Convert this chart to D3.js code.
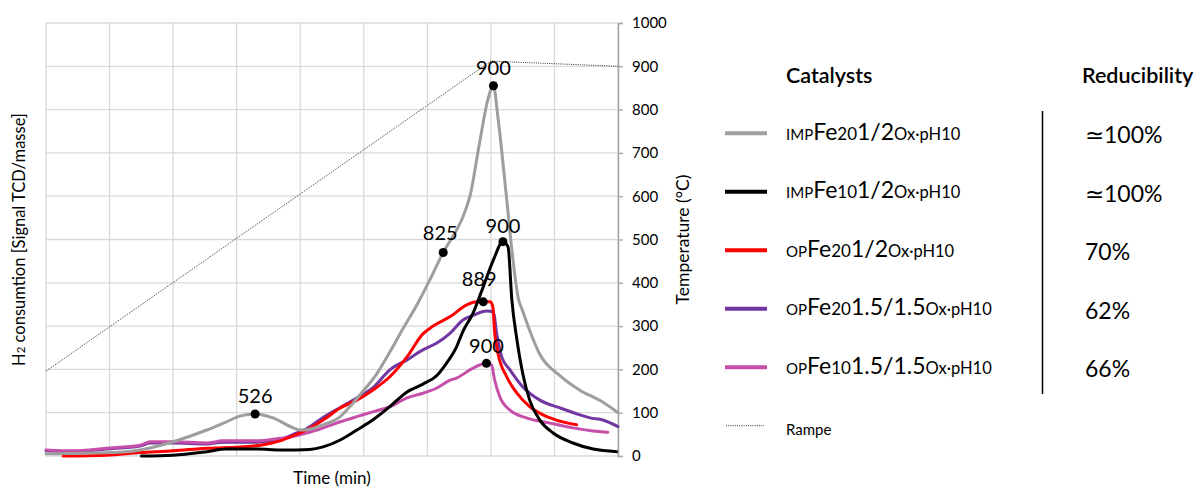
<!DOCTYPE html>
<html>
<head>
<meta charset="utf-8">
<script src="https://cdn.jsdelivr.net/npm/d3@7"></script>
<style>
  html, body { margin: 0; padding: 0; background: #fff; }
  svg { display: block; font-family: Lato, "Open Sans", sans-serif; }
</style>
</head>
<body>
<svg id="chart" width="1200" height="487"></svg>
<script>
// ---------- data ----------
const timeTicks = [0, 10, 20, 30, 40, 50, 60, 70, 80, 90];
const tempTicks = [0, 100, 200, 300, 400, 500, 600, 700, 800, 900, 1000];

const prefixes = ["IMP", "IMP", "OP", "OP", "OP"];
const loadings = ["20", "10", "20", "20", "10"];
const ratios = ["1/2", "1/2", "1/2", "1.5/1.5", "1.5/1.5"];
const suffix = "Ox·pH10";
const reducibility = ["≃100%", "≃100%", "70%", "62%", "66%"];
const colors = ["#9e9e9e", "#000000", "#ff0000", "#7136a0", "#c64fab"];

const impFe20 = [[0,5],[10.1,8],[12.1,9],[14.8,14],[20,33],[25.3,60],[28.4,79],[30.5,92],[32.9,97],[35.7,88],[38.9,65],[40,60],[41.5,62],[43.6,72],[46.3,91],[48.3,122],[49.9,150],[52.1,191],[54.1,240],[56.2,295],[58.4,350],[60.5,410],[62.5,470],[64.6,522],[65.6,552],[66.7,600],[68.3,730],[69.5,822],[70.4,855],[71.1,783],[72.5,591],[73.3,476],[74.3,365],[75.0,335],[76.1,290],[77.7,235],[80.9,185],[84.0,152],[87.2,128],[90,100]];
const impFe10 = [[15,0],[20,2],[25.3,10],[28.4,16],[33.2,16],[36.8,14],[39.4,14],[41.5,15],[43.6,21],[46.3,37],[48.9,60],[51.4,83],[54.1,114],[56.8,148],[59.3,166],[61.5,186],[63.0,214],[64.6,252],[65.6,288],[67.2,330],[68.8,391],[70.4,453],[71.9,495],[72.7,483],[73.3,360],[74.1,268],[75.0,191],[76.1,129],[77.7,83],[79.8,53],[82.9,30],[86.1,16],[89.8,10]];
const opFe20_12 = [[2.7,0],[9.5,2],[14.8,8],[20,12],[25.3,18],[30.5,21],[33.7,25],[36.8,35],[39.4,50],[41.0,60],[43.6,83],[46.3,111],[48.9,129],[51.4,152],[54.1,183],[56.8,229],[59.3,282],[60.9,300],[63.6,322],[66.2,349],[67.8,356],[68.8,356],[69.9,356],[70.3,345],[70.6,284],[71.1,238],[72.5,183],[74.1,145],[76.1,114],[78.2,95],[80.3,83],[83.5,72]];
const opFe20_15 = [[0,12],[4.2,10],[9.5,16],[14.8,23],[16.4,30],[20,30],[25.3,28],[27.8,32],[33.2,32],[36.8,38],[38.9,50],[41.0,63],[43.6,89],[46.3,112],[48.9,134],[51.4,157],[54.1,199],[56.8,222],[59.3,245],[61.5,261],[63.6,284],[65.6,314],[67.2,325],[69.3,335],[70.4,333],[70.9,284],[71.7,229],[73.0,199],[75.0,160],[77.7,129],[80.9,111],[84.0,95],[85.6,88],[87.6,83],[90,68]];
const opFe10_15 = [[0,14],[4.2,12],[9.5,18],[14.8,25],[16.4,33],[20,33],[25.3,30],[27.8,35],[33.2,35],[36.8,41],[38.4,44],[41.0,53],[43.6,65],[46.3,79],[48.9,91],[51.4,102],[54.1,114],[56.8,134],[59.3,145],[61.5,157],[63.6,175],[64.6,180],[67.2,203],[69.3,214],[70.1,210],[70.6,175],[71.4,137],[73.0,106],[75.6,88],[79.3,76],[82.9,65],[86.1,58],[88.4,55]];
const rampe = [[0,196],[70,912],[90,900]];

const annTime = [32.9, 62.5, 70.4, 71.9, 68.8, 69.3];
const annValue = [97, 470, 855, 495, 356, 214];
const annText = ["526", "825", "900", "900", "889", "900"];

const seriesData = [impFe20, impFe10, opFe20_12, opFe20_15, opFe10_15];

// ---------- chart ----------
const svg = d3.select("#chart");
const x = d3.scaleLinear().domain([0, 90]).range([46, 618]);
const y = d3.scaleLinear().domain([0, 1000]).range([456, 23]);

const grid = svg.append("g");
grid.selectAll("line.v").data(timeTicks).join("line")
  .attr("x1", d => x(d)).attr("x2", d => x(d))
  .attr("y1", y(0)).attr("y2", y(1000))
  .attr("stroke", "#d9d9d9").attr("stroke-width", 1.3);
grid.selectAll("line.h").data(tempTicks).join("line")
  .attr("x1", x(0)).attr("x2", x(90))
  .attr("y1", d => y(d)).attr("y2", d => y(d))
  .attr("stroke", "#d9d9d9").attr("stroke-width", 1.3);

// right axis
const axR = svg.append("g")
  .attr("transform", `translate(${x(90)},0)`)
  .call(d3.axisRight(y).tickValues(tempTicks).tickSize(5).tickPadding(9).tickFormat(d3.format("d")));
axR.select(".domain").attr("stroke", "#a6a6a6").attr("stroke-width", 1.5);
axR.selectAll(".tick line").attr("stroke", "#a6a6a6").attr("stroke-width", 1.3);
axR.selectAll(".tick text").attr("font-size", 15).attr("font-family", "Lato, sans-serif").attr("fill", "#000");

// axis titles
svg.append("text")
  .attr("transform", `translate(689,${(y(0) + y(1000)) / 2}) rotate(-90)`)
  .attr("text-anchor", "middle").attr("font-size", 17.5).text("Temperature (°C)");
const lt = svg.append("text")
  .attr("transform", `translate(25,${(y(0) + y(1000)) / 2}) rotate(-90)`)
  .attr("text-anchor", "middle").attr("font-size", 16.5);
lt.append("tspan").text("H");
lt.append("tspan").attr("font-size", 11.5).text("2");
lt.append("tspan").text(" consumtion [Signal TCD/masse]");
svg.append("text")
  .attr("x", (x(0) + x(90)) / 2).attr("y", 484)
  .attr("text-anchor", "middle").attr("font-size", 17).text("Time (min)");

// ramp
const line = d3.line().x(d => x(d[0])).y(d => y(d[1])).curve(d3.curveMonotoneX);
svg.append("path").datum(rampe)
  .attr("d", d3.line().x(d => x(d[0])).y(d => y(d[1])))
  .attr("fill", "none").attr("stroke", "#333").attr("stroke-width", 1)
  .attr("stroke-dasharray", "1,1.2");

// series draw order
const order = [3, 4, 2, 0, 1];
order.forEach(i => {
  svg.append("path").datum(seriesData[i])
    .attr("d", line)
    .attr("fill", "none").attr("stroke", colors[i]).attr("stroke-width", 3)
    .attr("stroke-linejoin", "round").attr("stroke-linecap", "round");
});

// annotations
const ann = annText.map((t, i) => ({ t: annTime[i], v: annValue[i], text: t }));
svg.selectAll("circle.ann").data(ann).join("circle")
  .attr("cx", d => x(d.t)).attr("cy", d => y(d.v)).attr("r", 4.5).attr("fill", "#000");
const labelDx = [0, -3, 0, 0, -4, 0];
const labelDy = [-11, -12, -11, -9, -16, -10];
svg.selectAll("text.ann").data(ann).join("text")
  .attr("x", (d, i) => x(d.t) + labelDx[i]).attr("y", (d, i) => y(d.v) + labelDy[i])
  .attr("text-anchor", "middle").attr("font-size", 20).text(d => d.text);

// legend
svg.append("text").attr("x", 786).attr("y", 83).attr("font-size", 21.5).attr("font-weight", 600).text("Catalysts");
svg.append("text").attr("x", 1082).attr("y", 83).attr("font-size", 21.5).attr("font-weight", 600).text("Reducibility");
svg.append("line").attr("x1", 1042.5).attr("x2", 1042.5).attr("y1", 111).attr("y2", 394)
  .attr("stroke", "#000").attr("stroke-width", 1.5);

prefixes.forEach((p, i) => {
  const ly = 133.3 + i * 58.5;
  svg.append("line").attr("x1", 725).attr("x2", 767).attr("y1", ly).attr("y2", ly)
    .attr("stroke", colors[i]).attr("stroke-width", 4);
  const t = svg.append("text").attr("x", 786).attr("y", ly + 6.5).attr("font-size", 16);
  t.append("tspan").attr("font-size", 15).text(p);
  t.append("tspan").attr("font-size", 23).text("Fe");
  t.append("tspan").attr("font-size", 17).text(loadings[i]);
  t.append("tspan").attr("font-size", 23).text(ratios[i]);
  t.append("tspan").attr("font-size", 16.5).text(suffix);
  svg.append("text").attr("x", 1085).attr("y", ly + 10).attr("font-size", 23).text(reducibility[i]);
});
svg.append("line").attr("x1", 726).attr("x2", 764).attr("y1", 425.7).attr("y2", 425.7)
  .attr("stroke", "#333").attr("stroke-width", 1).attr("stroke-dasharray", "1,1.2");
svg.append("text").attr("x", 786).attr("y", 435).attr("font-size", 15).text("Rampe");
</script>
</body>
</html>
